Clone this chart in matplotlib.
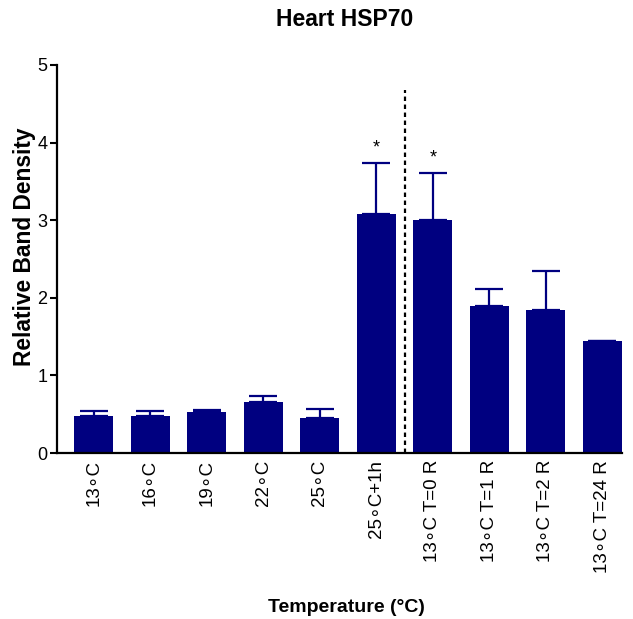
import matplotlib as mpl
mpl.use('Agg')
import matplotlib.pyplot as plt
import numpy as np

plt.rcParams['font.family'] = ['Liberation Sans', 'DejaVu Sans']

# data
labels = ['13∘C', '16∘C', '19∘C', '22∘C', '25∘C', '25∘C+1h',
          '13∘C T=0 R', '13∘C T=1 R', '13∘C T=2 R', '13∘C T=24 R']
means = [0.48, 0.48, 0.53, 0.66, 0.45, 3.08, 3.00, 1.89, 1.84, 1.45]
errors = [0.065, 0.065, 0.02, 0.07, 0.12, 0.66, 0.61, 0.22, 0.51, 0.0]
significant = [False, False, False, False, False, True, True, False, False, False]

bar_color = '#000080'

fig = plt.figure(figsize=(6.33, 6.19), dpi=100)
ax = fig.add_axes([0.090, 0.268, 0.893, 0.627])

x = np.arange(len(labels))
ax.bar(x, means, width=0.69, color=bar_color, zorder=2)
# upper error bars only
ax.errorbar(x, means, yerr=[np.zeros(len(errors)), errors], fmt='none',
            ecolor=bar_color, elinewidth=1.6, capsize=10, capthick=1.6, zorder=1)

# significance stars
for xi, m, e, s in zip(x, means, errors, significant):
    if s:
        ax.text(xi, m + e + 0.08, '*', ha='center', va='bottom', fontsize=13)

# dashed separator between the groups
ax.plot([5.5, 5.5], [0, 4.68], color='black', linestyle=(0, (2, 1.6)), linewidth=1.6, zorder=3)

ax.set_xlim(-0.65, 9.35)
ax.set_ylim(0, 5)
ax.set_yticks(range(6))
ax.set_xticks(x)
ax.set_xticklabels(labels, rotation=90, fontsize=13.5)
ax.tick_params(axis='x', length=0, pad=5)
ax.tick_params(axis='y', labelsize=13, width=1.5, length=5, pad=2)

for side in ['top', 'right']:
    ax.spines[side].set_visible(False)
for side in ['left', 'bottom']:
    ax.spines[side].set_linewidth(1.6)

fig.text(0.038, 0.601, 'Relative Band Density', rotation=90, ha='center', va='center',
         fontsize=16.4, fontweight='bold')
fig.text(0.545, 0.969, 'Heart HSP70', ha='center', va='center', fontsize=16.5, fontweight='bold')
fig.text(0.548, 0.019, 'Temperature (°C)', ha='center', va='center', fontsize=14, fontweight='bold')

plt.savefig('out.png', dpi=100)
plt.close('all')
